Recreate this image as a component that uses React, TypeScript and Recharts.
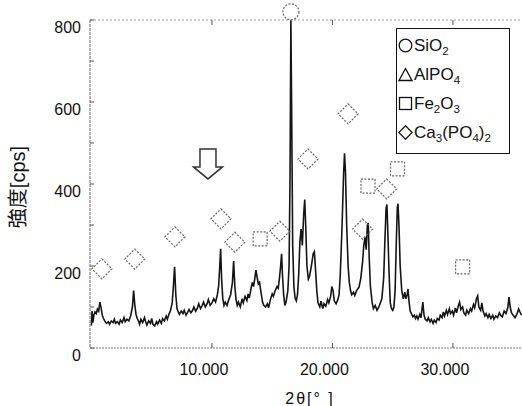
import React from 'react';
import { ComposedChart, Line, Scatter, XAxis, YAxis, ReferenceDot } from 'recharts';

// 2θ [deg], intensity [cps]
const scan: [number, number][] = [
  [0.0, 55], [0.05, 90], [0.12, 62], [0.2, 80], [0.3, 88], [0.4, 84], [0.5, 95], [0.6, 90], [0.7, 112], [0.8, 98],
  [0.9, 80], [1.0, 72], [1.1, 66], [1.25, 60], [1.4, 64], [1.5, 58], [1.65, 66], [1.8, 62], [1.9, 70], [2.0, 60],
  [2.15, 64], [2.3, 58], [2.4, 68], [2.55, 62], [2.7, 74], [2.8, 64], [2.95, 70], [3.1, 66], [3.25, 78], [3.4, 100],
  [3.5, 140], [3.6, 104], [3.7, 82], [3.8, 72], [3.9, 66], [4.0, 58], [4.1, 70], [4.25, 62], [4.4, 74], [4.5, 64],
  [4.6, 56], [4.75, 66], [4.9, 60], [5.0, 72], [5.1, 58], [5.25, 54], [5.4, 64], [5.5, 58], [5.65, 68], [5.8, 60],
  [5.9, 72], [6.05, 66], [6.2, 78], [6.3, 70], [6.45, 84], [6.55, 90], [6.7, 110], [6.8, 150], [6.9, 198], [7.0, 130],
  [7.1, 96], [7.2, 88], [7.3, 82], [7.45, 90], [7.6, 84], [7.7, 92], [7.85, 80], [8.0, 88], [8.1, 94], [8.25, 86],
  [8.4, 92], [8.5, 100], [8.65, 90], [8.8, 98], [8.9, 108], [9.05, 96], [9.2, 104], [9.3, 112], [9.45, 100], [9.6, 108],
  [9.7, 118], [9.85, 104], [10.0, 110], [10.15, 120], [10.3, 112], [10.45, 130], [10.55, 150], [10.65, 200], [10.72, 242], [10.8, 170],
  [10.9, 120], [11.0, 104], [11.1, 112], [11.25, 104], [11.4, 118], [11.55, 130], [11.7, 160], [11.8, 212], [11.9, 150], [12.0, 118],
  [12.1, 104], [12.2, 112], [12.35, 100], [12.5, 120], [12.6, 110], [12.75, 126], [12.9, 116], [13.0, 132], [13.1, 122], [13.25, 146],
  [13.35, 160], [13.45, 150], [13.55, 168], [13.65, 190], [13.75, 172], [13.85, 156], [13.95, 160], [14.05, 140], [14.2, 112], [14.3, 104],
  [14.45, 100], [14.6, 108], [14.7, 98], [14.85, 118], [15.0, 132], [15.1, 126], [15.25, 140], [15.4, 150], [15.5, 146], [15.6, 170],
  [15.7, 200], [15.78, 230], [15.85, 180], [15.95, 130], [16.05, 104], [16.15, 112], [16.3, 140], [16.4, 200], [16.48, 420], [16.55, 800],
  [16.62, 560], [16.7, 250], [16.8, 150], [16.9, 122], [17.0, 115], [17.1, 130], [17.2, 180], [17.3, 260], [17.4, 290], [17.5, 250],
  [17.62, 330], [17.7, 362], [17.78, 300], [17.88, 200], [18.0, 168], [18.1, 175], [18.25, 200], [18.4, 230], [18.5, 235], [18.6, 190],
  [18.7, 140], [18.8, 110], [18.95, 100], [19.05, 114], [19.2, 96], [19.3, 108], [19.45, 102], [19.6, 118], [19.7, 110], [19.85, 126],
  [19.95, 150], [20.05, 140], [20.15, 115], [20.3, 108], [20.45, 118], [20.55, 130], [20.65, 180], [20.8, 300], [20.92, 420], [21.0, 475],
  [21.08, 430], [21.18, 300], [21.3, 200], [21.4, 160], [21.5, 140], [21.6, 130], [21.75, 136], [21.85, 128], [22.0, 140], [22.2, 148],
  [22.35, 170], [22.5, 210], [22.6, 250], [22.7, 270], [22.8, 240], [22.9, 300], [22.97, 305], [23.05, 220], [23.15, 150], [23.3, 110],
  [23.4, 96], [23.55, 104], [23.7, 92], [23.85, 100], [23.95, 108], [24.1, 120], [24.25, 170], [24.35, 260], [24.45, 340], [24.52, 350],
  [24.6, 280], [24.7, 180], [24.8, 110], [24.9, 96], [25.0, 92], [25.1, 100], [25.2, 140], [25.3, 260], [25.38, 340], [25.44, 352],
  [25.52, 300], [25.62, 200], [25.75, 140], [25.88, 120], [26.0, 136], [26.1, 120], [26.2, 130], [26.27, 144], [26.35, 115], [26.45, 90],
  [26.55, 84], [26.68, 76], [26.8, 80], [26.9, 72], [27.0, 78], [27.1, 70], [27.25, 82], [27.35, 74], [27.5, 112], [27.6, 80],
  [27.7, 70], [27.85, 66], [27.95, 74], [28.1, 64], [28.2, 70], [28.35, 60], [28.45, 68], [28.6, 62], [28.7, 72], [28.85, 68],
  [28.95, 80], [29.1, 74], [29.2, 88], [29.3, 78], [29.45, 92], [29.55, 82], [29.7, 96], [29.8, 84], [29.95, 90], [30.05, 80],
  [30.2, 98], [30.3, 86], [30.45, 104], [30.55, 112], [30.65, 94], [30.8, 100], [30.9, 86], [31.05, 80], [31.15, 92], [31.3, 84],
  [31.45, 96], [31.55, 90], [31.7, 106], [31.8, 98], [31.95, 120], [32.05, 127], [32.15, 100], [32.3, 92], [32.4, 110], [32.5, 90],
  [32.65, 78], [32.75, 84], [32.9, 74], [33.0, 82], [33.15, 72], [33.3, 80], [33.4, 70], [33.55, 78], [33.7, 74], [33.85, 86],
  [33.95, 80], [34.1, 76], [34.25, 90], [34.4, 84], [34.55, 98], [34.65, 124], [34.75, 100], [34.85, 86], [35.0, 80], [35.15, 74],
  [35.3, 82], [35.45, 95], [35.55, 88], [35.7, 80],
];

// phase markers drawn above the peaks (2θ, cps)
const diamondMarks: [number, number][] = [
  [0.87, 193], [3.6, 217], [6.93, 271], [10.75, 315], [11.9, 258], [15.64, 285],
  [17.97, 461], [21.3, 571], [22.5, 290], [24.5, 388],
];
const squareMarks: [number, number][] = [[14.0, 266], [22.95, 395], [25.4, 437], [30.8, 198]];
const circleMark: [number, number] = [16.55, 820];
const arrowMark: [number, number] = [9.67, 449];

const xTicks = [10, 20, 30];
const yTicks = [0, 100, 200, 300, 400, 500, 600, 700, 800];

const legendItems = [
  { shape: 'circle', label: 'SiO_2' },
  { shape: 'triangle', label: 'AlPO_4' },
  { shape: 'square', label: 'Fe_2O_3' },
  { shape: 'diamond', label: 'Ca_3(PO_4)_2' },
];

const PLOT_LEFT = 90;
const PLOT_TOP = 20;
const PLOT_BOTTOM = 348;
const FONT = '"Liberation Sans", Arial, "Noto Sans CJK JP", sans-serif';

const rows = scan.map(([t, c]) => ({ t, c }));
const toRows = (list: [number, number][]) => list.map(([t, c]) => ({ t, c }));

const XTick = (p: any) => (
  <g>
    <line x1={p.x} x2={p.x} y1={PLOT_BOTTOM} y2={PLOT_BOTTOM - 5} stroke="#555" />
    <text x={p.x - 8} y={375} textAnchor="middle" fontSize={16} fill="#111" fontFamily={FONT}>
      {Number(p.payload.value).toFixed(3)}
    </text>
  </g>
);

const TopTick = (p: any) => (
  <line x1={p.x} x2={p.x} y1={PLOT_TOP} y2={PLOT_TOP + 5} stroke="#555" />
);

const YTick = (p: any) => {
  const v = p.payload.value;
  return (
    <g>
      <line x1={PLOT_LEFT} x2={PLOT_LEFT + 4} y1={p.y} y2={p.y} stroke="#555" />
      {v % 200 === 0 && (
        <text x={81} y={p.y + 13} textAnchor="end" fontSize={16} fill="#111" fontFamily={FONT}>
          {v}
        </text>
      )}
    </g>
  );
};

const YTitle = () => (
  <text x={18} y={187} transform="rotate(-90 18 187)" textAnchor="middle" dominantBaseline="central"
    fontSize={20} fill="#111" fontFamily={FONT}>
    強度[cps]
  </text>
);

const XTitle = () => (
  <text x={310} y={404} textAnchor="middle" fontSize={16} fill="#111" fontFamily={FONT} letterSpacing={2}>
    2θ[°  ]
  </text>
);

const markStroke = { fill: 'none', stroke: '#666', strokeWidth: 1.2, strokeDasharray: '2 1.5' };

const Diamond = (p: any) => (
  <polygon points={`${p.cx},${p.cy - 10} ${p.cx + 10},${p.cy} ${p.cx},${p.cy + 10} ${p.cx - 10},${p.cy}`} {...markStroke} />
);
const Square = (p: any) => <rect x={p.cx - 7} y={p.cy - 7} width={14} height={14} {...markStroke} />;
const Circle = (p: any) => <circle cx={p.cx} cy={p.cy} r={8} {...markStroke} />;
const Arrow = (p: any) => {
  const { cx, cy } = p;
  const pts = [
    [cx - 8, cy - 15], [cx + 8, cy - 15], [cx + 8, cy + 3], [cx + 14.5, cy + 3],
    [cx, cy + 15], [cx - 14.5, cy + 3], [cx - 8, cy + 3],
  ].map((q) => q.join(',')).join(' ');
  return <polygon points={pts} fill="#fff" stroke="#333" strokeWidth={1.5} />;
};

const LegendSymbol = ({ shape }: { shape: string }) => (
  <svg width={15} height={15} style={{ display: 'block', flex: 'none' }}>
    {shape === 'circle' && <circle cx={7.5} cy={7.5} r={6.3} fill="none" stroke="#111" strokeWidth={1.3} />}
    {shape === 'triangle' && <polygon points="7.5,1.5 14,13.5 1,13.5" fill="none" stroke="#111" strokeWidth={1.3} />}
    {shape === 'square' && <rect x={1.5} y={1.5} width={12} height={12} fill="none" stroke="#111" strokeWidth={1.3} />}
    {shape === 'diamond' && <polygon points="7.5,0.8 14.2,7.5 7.5,14.2 0.8,7.5" fill="none" stroke="#111" strokeWidth={1.3} />}
  </svg>
);

const Formula = ({ text }: { text: string }) => {
  const parts = text.split(/(_\d)/).filter(Boolean);
  return (
    <span>
      {parts.map((s, i) =>
        s.startsWith('_') ? (
          <sub key={i} style={{ fontSize: '0.68em', lineHeight: 0 }}>{s.slice(1)}</sub>
        ) : (
          <span key={i}>{s}</span>
        ),
      )}
    </span>
  );
};

export default function App() {
  return (
    <div style={{ position: 'absolute', left: 0, top: 0, width: 522, height: 406, background: '#fff', fontFamily: FONT }}>
      <ComposedChart width={522} height={406} data={rows} margin={{ top: 0, right: 0, bottom: 0, left: 0 }}>
        <XAxis xAxisId="b" dataKey="t" type="number" domain={[-0.12, 35.73]} ticks={xTicks} interval={0}
          height={58} tickLine={false} tick={<XTick />} axisLine={{ stroke: '#777', strokeDasharray: '2 1' }}
          label={<XTitle />} />
        <XAxis xAxisId="top" orientation="top" dataKey="t" type="number" domain={[-0.12, 35.73]} ticks={xTicks}
          interval={0} height={PLOT_TOP} tickLine={false} tick={<TopTick />}
          axisLine={{ stroke: '#999', strokeDasharray: '2 2' }} />
        <YAxis yAxisId="l" type="number" domain={[0, 800]} ticks={yTicks} interval={0} width={PLOT_LEFT}
          tickLine={false} tick={<YTick />} axisLine={{ stroke: '#666', strokeDasharray: '3 1' }}
          label={<YTitle />} />
        <Line xAxisId="b" yAxisId="l" dataKey="c" type="linear" stroke="#151515" strokeWidth={1.6}
          dot={false} isAnimationActive={false} />
        <Scatter xAxisId="b" yAxisId="l" data={toRows(diamondMarks)} dataKey="c" shape={Diamond} isAnimationActive={false} />
        <Scatter xAxisId="b" yAxisId="l" data={toRows(squareMarks)} dataKey="c" shape={Square} isAnimationActive={false} />
        <ReferenceDot xAxisId="b" yAxisId="l" x={circleMark[0]} y={circleMark[1]} ifOverflow="visible" shape={Circle} />
        <ReferenceDot xAxisId="b" yAxisId="l" x={arrowMark[0]} y={arrowMark[1]} ifOverflow="visible" shape={Arrow} />
      </ComposedChart>
      <div style={{ position: 'absolute', left: 396, top: 28, width: 114, height: 126, boxSizing: 'border-box',
        border: '1.5px solid #111', background: '#fff', paddingTop: 2 }}>
        {legendItems.map((it) => (
          <div key={it.label} style={{ display: 'flex', alignItems: 'center', height: 29, paddingLeft: 1, fontSize: 17, color: '#111' }}>
            <LegendSymbol shape={it.shape} />
            <span style={{ marginLeft: 1 }}><Formula text={it.label} /></span>
          </div>
        ))}
      </div>
    </div>
  );
}
